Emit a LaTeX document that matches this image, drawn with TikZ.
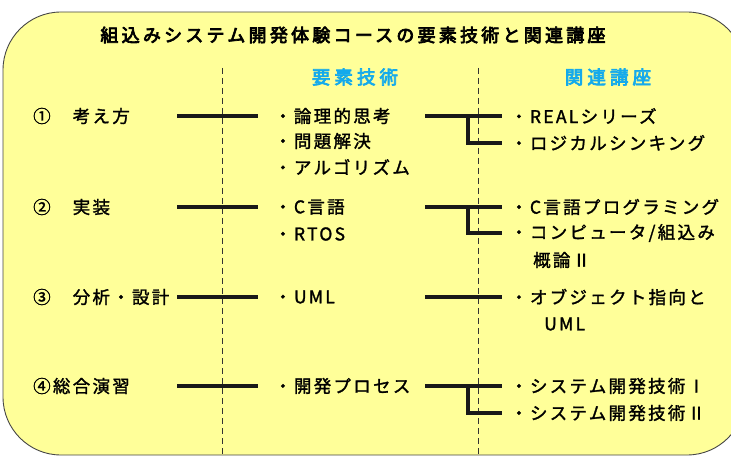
\documentclass[tikz,border=0pt]{standalone}
\usepackage{fontspec}
\newfontfamily\jp[LetterSpace=13,FakeBold=1.6]{Noto Sans CJK JP}
\newfontfamily\jphdr[LetterSpace=22,FakeBold=4]{Noto Sans CJK JP}
\newfontfamily\jptitle[LetterSpace=18,FakeBold=4]{Noto Sans CJK JP}
\definecolor{boxyellow}{RGB}{255,255,153}
\definecolor{hdrblue}{RGB}{20,170,235}
\definecolor{rimgray}{RGB}{70,70,70}
\tikzset{
  lbl/.style={anchor=west, inner sep=0pt, font=\jp\fontsize{17.5}{17.5}\selectfont},
  hdr/.style={inner sep=0pt, text=hdrblue, font=\jphdr\fontsize{18.5}{18.5}\selectfont},
  ttl/.style={inner sep=0pt, font=\jptitle\fontsize{18}{18}\selectfont},
  conn/.style={line width=3.2pt, draw=black!90},
  guide/.style={dash pattern=on 6pt off 4pt, line width=0.8pt, draw=black!80},
}
\begin{document}
\begin{tikzpicture}[x=1pt,y=-1pt]
\useasboundingbox (0,0) rectangle (731,457);
% panel
\draw[fill=boxyellow, draw=rimgray, line width=0.9pt, rounded corners=58pt] (3,12) rectangle (745,455);
% title
\node[ttl] (title) at (353,35) {組込みシステム開発体験コースの要素技術と関連講座};
% headers
\node[hdr] (h1) at (355,77) {要素技術};
\node[hdr] (h2) at (608,77) {関連講座};
% dashed guides
\coordinate (g1t) at (222,68); \coordinate (g1b) at (222,460);
\coordinate (g2t) at (478,68); \coordinate (g2b) at (478,460);
\draw[guide] (g1t) -- (g1b);
\draw[guide] (g2t) -- (g2b);
% left labels
\node[lbl] (l1) at (33,116) {①　考え方};
\node[lbl] (l2) at (33,207) {②　実装};
\node[lbl] (l3) at (33,297) {③　分析・設計};
\node[lbl] (l4) at (33,386) {④総合演習};
% middle items
\node[lbl] (m11) at (274,116) {・論理的思考};
\node[lbl] (m12) at (274,141) {・問題解決};
\node[lbl] (m13) at (274,167) {・アルゴリズム};
\node[lbl] (m21) at (274,207) {・C言語};
\node[lbl] (m22) at (274,234) {・RTOS};
\node[lbl] (m31) at (274,297) {・UML};
\node[lbl] (m41) at (274,386) {・開発プロセス};
% right items
\node[lbl] (r11) at (510,116) {・REALシリーズ};
\node[lbl] (r12) at (510,143) {・ロジカルシンキング};
\node[lbl] (r21) at (510,207) {・C言語プログラミング};
\node[lbl] (r22) at (510,233) {・コンピュータ/組込み};
\node[lbl] (r23) at (533,260) {概論Ⅱ};
\node[lbl] (r31) at (510,297) {・オブジェクト指向と};
\node[lbl] (r32) at (544,324) {UML};
\node[lbl] (r41) at (510,386) {・システム開発技術Ⅰ};
\node[lbl] (r42) at (510,413) {・システム開発技術Ⅱ};
% left and right connectors
\foreach \i/\y in {1/116,2/207,3/297,4/386}{
  \coordinate (la\i) at (177,\y);
  \coordinate (lb\i) at (258,\y);
  \draw[conn] (la\i) -- (lb\i);
  \coordinate (ra\i) at (425,\y);
  \coordinate (rb\i) at (502,\y);
  \coordinate (rv\i) at (468,\y);
  \draw[conn] (ra\i) -- (rb\i);
}
% branches
\coordinate (rc1) at (502,143);
\coordinate (rc2) at (502,233);
\coordinate (rc4) at (502,413);
\draw[conn] (rv1) |- (rc1);
\draw[conn] (rv2) |- (rc2);
\draw[conn] (rv4) |- (rc4);
\end{tikzpicture}
\end{document}
